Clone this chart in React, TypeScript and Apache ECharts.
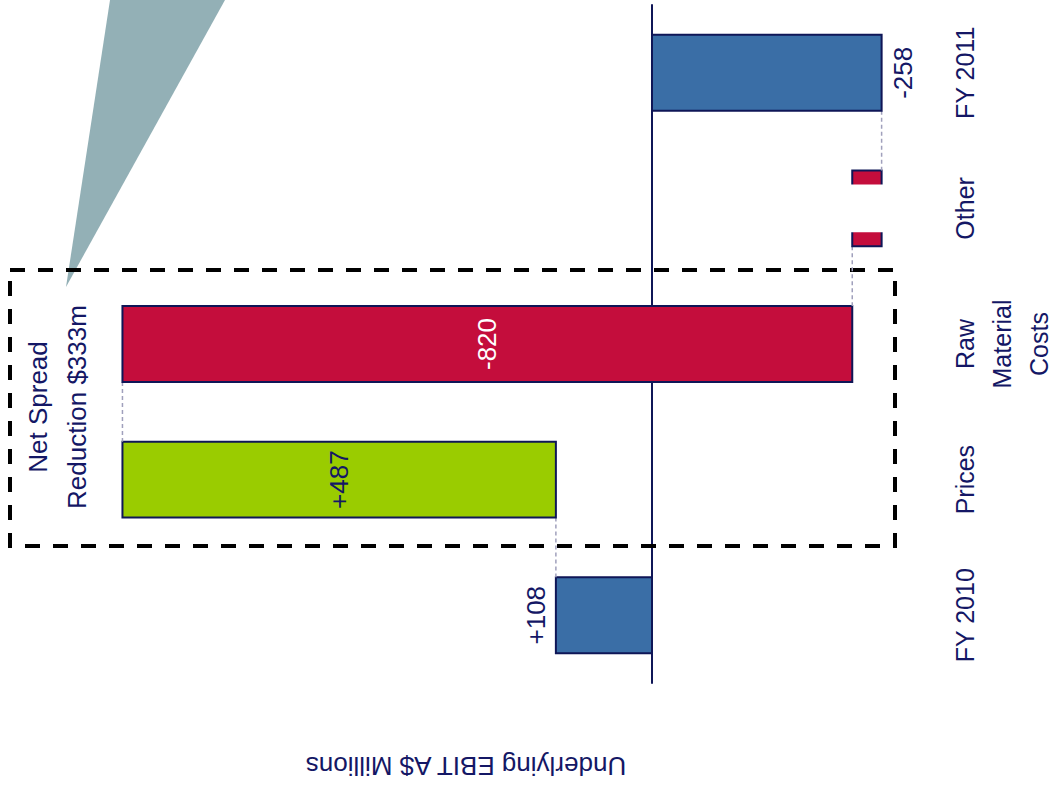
import React, { useEffect, useRef } from 'react';
import * as echarts from 'echarts';

// ---- data ----
const categories = ['FY 2010', 'Prices', 'Raw\nMaterial\nCosts', 'Other', 'FY 2011'];
const openingTotal = 108;
const steps = [487, -820, -33];
const closingTotal = -258;
const valueLabels = ['+108', '+487', '-820', '', '-258'];
const barKinds = ['total', 'increase', 'decrease', 'decrease', 'total'];
const labelPlacement = ['outsideLeft', 'inside', 'inside', 'none', 'outsideRight'];
const axisName = 'Underlying EBIT A$ Millions';
const calloutText = 'Net Spread\nReduction $333m';

// ---- build waterfall table ----
const starts: number[] = [0];
const ends: number[] = [openingTotal];
let running = openingTotal;
steps.forEach((s) => {
  starts.push(running);
  running += s;
  ends.push(running);
});
starts.push(0);
ends.push(closingTotal);
const waterfallData = categories.map((_, i) => [i, starts[i], ends[i]]);

const NAVY = '#141765';
const BORDER = '#0F1657';
const FONT = '"Liberation Sans", Arial, sans-serif';
const kindColor: Record<string, string> = {
  total: '#3A6EA6',
  increase: '#9ACC00',
  decrease: '#C40D3C',
};

export default function App() {
  const ref = useRef<HTMLDivElement>(null);
  useEffect(() => {
    if (!ref.current) return;
    const chart = echarts.init(ref.current, null, { renderer: 'svg' });
    const option: any = {
      animation: false,
      backgroundColor: '#ffffff',
      grid: { left: 29, right: 139, top: 5, bottom: 105, containLabel: false },
      xAxis: {
        type: 'value',
        inverse: true,
        min: -300,
        max: 700,
        axisLine: { show: false },
        axisTick: { show: false },
        axisLabel: { show: false },
        splitLine: { show: false },
        name: axisName,
        nameLocation: 'middle',
        nameRotate: 180,
        nameGap: 70,
        nameTextStyle: { fontSize: 26, color: NAVY, fontFamily: FONT, padding: [0, 0, 0, 16] },
      },
      yAxis: [
        {
          type: 'category',
          data: categories,
          position: 'right',
          axisLine: { show: false, onZero: false },
          axisTick: { show: false },
          splitLine: { show: false },
          axisLabel: {
            interval: 0,
            rotate: 90,
            margin: 27,
            fontSize: 25,
            lineHeight: 37,
            color: NAVY,
            fontFamily: FONT,
            align: 'center',
          },
        },
        {
          type: 'category',
          data: categories,
          position: 'left',
          axisLine: { show: true, onZero: true, lineStyle: { color: BORDER, width: 2 } },
          axisTick: { show: false },
          axisLabel: { show: false },
          splitLine: { show: false },
        },
      ],
      graphic: [
        {
          type: 'polygon',
          z: 1,
          shape: { points: [[110, 0], [225, 0], [66, 287]] },
          style: { fill: '#93B0B6' },
        },
        {
          type: 'rect',
          z: 2,
          shape: { x: 10, y: 270, width: 885, height: 276 },
          style: { fill: 'none', stroke: '#000000', lineWidth: 4, lineDash: [15, 13] },
        },
        {
          type: 'text',
          z: 3,
          x: 57,
          y: 407,
          rotation: Math.PI / 2,
          style: {
            text: calloutText,
            font: `26px ${FONT}`,
            fill: NAVY,
            align: 'center',
            verticalAlign: 'middle',
            lineHeight: 39,
          },
        },
      ],
      series: [
        {
          type: 'custom',
          xAxisIndex: 0,
          yAxisIndex: 0,
          encode: { x: [1, 2], y: 0 },
          data: waterfallData,
          z: 5,
          renderItem: (params: any, api: any) => {
            const i = params.dataIndex;
            const idx = api.value(0);
            const s = api.value(1);
            const e = api.value(2);
            const p0 = api.coord([s, idx]);
            const p1 = api.coord([e, idx]);
            const band = api.size([0, 1])[1];
            const bw = band * 0.56;
            const x = Math.min(p0[0], p1[0]);
            const w = Math.abs(p1[0] - p0[0]);
            const y = p0[1] - bw / 2;
            const children: any[] = [];
            // connector from previous bar
            if (i > 0) {
              const prevEnd = ends[i - 1];
              const cx = api.coord([prevEnd, idx])[0];
              const prevCenter = api.coord([0, idx - 1])[1];
              children.push({
                type: 'line',
                shape: { x1: cx, y1: p0[1] + bw / 2, x2: cx, y2: prevCenter - bw / 2 },
                style: { stroke: '#A0A0BC', lineWidth: 1.5, lineDash: [4, 3] },
              });
            }
            children.push({
              type: 'rect',
              shape: { x, y, width: w, height: bw },
              style: { fill: kindColor[barKinds[i]], stroke: BORDER, lineWidth: 2 },
            });
            if (categories[i] === 'Other') {
              const cut = bw * (14 / 75);
              children.push({
                type: 'rect',
                shape: { x: x - 4, y: y + cut, width: w + 8, height: bw - 2 * cut },
                style: { fill: '#ffffff' },
              });
            }
            const lab = valueLabels[i];
            const place = labelPlacement[i];
            if (lab && place !== 'none') {
              let tx = x + w / 2;
              let va = 'middle';
              let fill = NAVY;
              if (place === 'outsideLeft') {
                tx = x - 7;
                va = 'bottom';
              } else if (place === 'outsideRight') {
                tx = x + w + 8;
                va = 'top';
              } else if (barKinds[i] === 'decrease') {
                fill = '#ffffff';
              }
              children.push({
                type: 'text',
                x: tx,
                y: p0[1],
                rotation: Math.PI / 2,
                style: {
                  text: lab,
                  font: `26px ${FONT}`,
                  fill,
                  align: 'center',
                  verticalAlign: va,
                },
              });
            }
            return { type: 'group', children };
          },
        },
      ],
    };
    chart.setOption(option);
    return () => chart.dispose();
  }, []);
  return (
    <div
      ref={ref}
      style={{ position: 'absolute', left: 0, top: 0, width: 1058, height: 788 }}
    />
  );
}
